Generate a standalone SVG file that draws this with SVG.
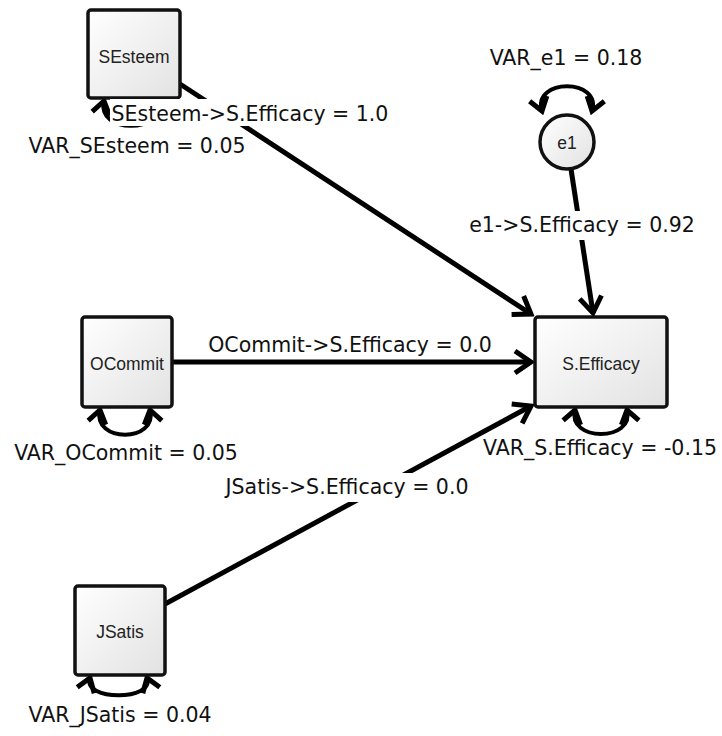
<svg xmlns="http://www.w3.org/2000/svg" width="722" height="736" viewBox="0 0 722 736">
  <defs>
    <linearGradient id="fillGrad" x1="0" y1="0" x2="1" y2="1">
      <stop offset="0" stop-color="#ffffff"/>
      <stop offset="1" stop-color="#e2e2e2"/>
    </linearGradient>
    <marker id="arrow" markerUnits="userSpaceOnUse" viewBox="-20 -14 24 28" refX="0" refY="0" markerWidth="24" markerHeight="28" orient="auto">
      <path d="M -16 -11 L 0 0 L -16 11" fill="none" stroke="#000" stroke-width="5" stroke-linejoin="miter"/>
    </marker>
    <marker id="loopArrow" markerUnits="userSpaceOnUse" viewBox="-16 -12 20 24" refX="0" refY="0" markerWidth="20" markerHeight="24" orient="auto-start-reverse">
      <path d="M -13 -9 L 0 0 L -13 9" fill="none" stroke="#000" stroke-width="5" stroke-linejoin="miter"/>
    </marker>
  </defs>
  <style>
    .node rect, .node circle { fill: url(#fillGrad); stroke: #111; stroke-width: 3.5; }
    .node text { font-family: "Liberation Sans", Arial, sans-serif; font-size: 17.5px; fill: #222; text-anchor: middle; dominant-baseline: central; }
    .edge { fill: none; stroke: #000; stroke-width: 5; marker-end: url(#arrow); }
    .loop { fill: none; stroke: #000; stroke-width: 4; marker-start: url(#loopArrow); marker-end: url(#loopArrow); }
    .label rect { fill: #fff; }
    .label text { font-family: "DejaVu Sans", Verdana, sans-serif; font-size: 20.5px; fill: #111; text-anchor: middle; }
  </style>

  <rect width="722" height="736" fill="#fff"/>

  <!-- paths and variance loops -->
  <g id="connectors">
    <path class="edge" d="M 180 84 L 531 314"/>
    <path class="edge" d="M 172 362 L 531 362"/>
    <path class="edge" d="M 165 604 L 531 406"/>
    <path class="edge" d="M 571 169 L 593 313"/>
    <path class="loop" d="M 104 101 C 96 134, 166 134, 158 101"/>
    <path class="loop" d="M 100 410 C 92 443, 158 443, 150 410"/>
    <path class="loop" d="M 575 410 C 567 442, 635 442, 627 410"/>
    <path class="loop" d="M 90 678 C 82 701, 155 701, 147 678"/>
    <path class="loop" d="M 542 111 C 532 78, 602 78, 592 111"/>
  </g>

  <g id="SEsteem" class="node">
    <rect x="88" y="10" width="92" height="88" rx="3"/>
    <text x="134" y="57">SEsteem</text>
  </g>
  <g id="OCommit" class="node">
    <rect x="82" y="317" width="90" height="90" rx="3"/>
    <text x="127" y="364">OCommit</text>
  </g>
  <g id="JSatis" class="node">
    <rect x="75" y="586" width="90" height="89" rx="3"/>
    <text x="120" y="632">JSatis</text>
  </g>
  <g id="SEfficacy" class="node">
    <rect x="535" y="317" width="132" height="90" rx="3"/>
    <text x="601" y="364">S.Efficacy</text>
  </g>
  <g id="e1" class="node">
    <circle cx="567" cy="142" r="27"/>
    <text x="567" y="143">e1</text>
  </g>

  <!-- parameter labels -->
  <g id="labels" class="label">
    <rect x="110" y="99" width="280" height="27"/>
    <text x="250" y="121">SEsteem-&gt;S.Efficacy = 1.0</text>
    <rect x="22" y="134" width="230" height="26"/>
    <text x="137" y="153">VAR_SEsteem = 0.05</text>
    <rect x="487" y="46" width="158" height="25"/>
    <text x="566" y="65">VAR_e1 = 0.18</text>
    <rect x="467" y="211" width="231" height="29"/>
    <text x="582" y="232">e1-&gt;S.Efficacy = 0.92</text>
    <rect x="205" y="333" width="290" height="25"/>
    <text x="350" y="352">OCommit-&gt;S.Efficacy = 0.0</text>
    <rect x="11" y="441" width="229" height="25"/>
    <text x="126" y="460">VAR_OCommit = 0.05</text>
    <rect x="481" y="437" width="237" height="24"/>
    <text x="600" y="455">VAR_S.Efficacy = -0.15</text>
    <rect x="222" y="473" width="249" height="29"/>
    <text x="347" y="494">JSatis-&gt;S.Efficacy = 0.0</text>
    <rect x="28" y="703" width="184" height="25"/>
    <text x="120" y="722">VAR_JSatis = 0.04</text>
  </g>
</svg>
